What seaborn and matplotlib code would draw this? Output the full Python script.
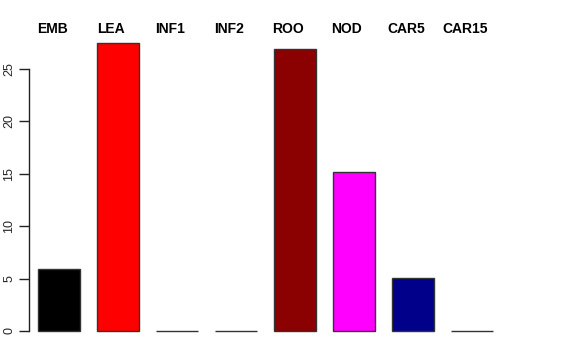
import pandas as pd
import matplotlib
matplotlib.use("Agg")
import matplotlib.pyplot as plt
import matplotlib.transforms as mtransforms
import seaborn as sns

# data
stages = ["EMB", "LEA", "INF1", "INF2", "ROO", "NOD", "CAR5", "CAR15"]
values = [5.92, 27.48, 0.0, 0.0, 26.9, 15.17, 5.06, 0.0]
colors = ["#000000", "#FF0000", "#00CD00", "#0000FF", "#8B0000", "#FF00FF", "#00008B", "#BEBEBE"]

sns.set_theme(style="white")
plt.rcParams['font.family'] = ['Liberation Sans', 'DejaVu Sans']

df = pd.DataFrame({"stage": stages, "value": values})

fig = plt.figure(figsize=(5.76, 3.6), dpi=100)
# axes placed so 0 sits at y=331px and 25 at y=69px
ax = fig.add_axes([29 / 576, (360 - 331) / 360, 478.4 / 576, 293.4 / 360])

sns.barplot(data=df, x="stage", y="value", hue="stage", palette=colors,
            legend=False, width=0.71, edgecolor="#333333", linewidth=1.0,
            saturation=1, ax=ax)
# keep the bottom border of the bars (and the zero bars) visible
for p in ax.patches:
    p.set_clip_on(False)

ax.set_xlim(-0.51, 7.6)
ax.set_ylim(0, 28)
ax.set_xlabel("")
ax.set_ylabel("")
ax.set_xticks([])

for s in ["top", "right", "bottom"]:
    ax.spines[s].set_visible(False)
ax.spines["left"].set_bounds(0, 25)
ax.spines["left"].set_color("#222222")
ax.spines["left"].set_linewidth(1.0)
ax.set_yticks([0, 5, 10, 15, 20, 25])
ax.tick_params(axis="y", direction="out", length=7, width=1, color="#222222",
               labelsize=9, pad=3, left=True)
for lab in ax.get_yticklabels():
    lab.set_rotation(90)
    lab.set_va("center")

trans = mtransforms.blended_transform_factory(ax.transData, ax.transAxes)
for i, name in enumerate(stages):
    ax.text(i - 0.12, 1.029, name, transform=trans, ha="center", va="center",
            fontsize=10, fontweight="bold", color="black")

fig.savefig("out.png", dpi=100)
